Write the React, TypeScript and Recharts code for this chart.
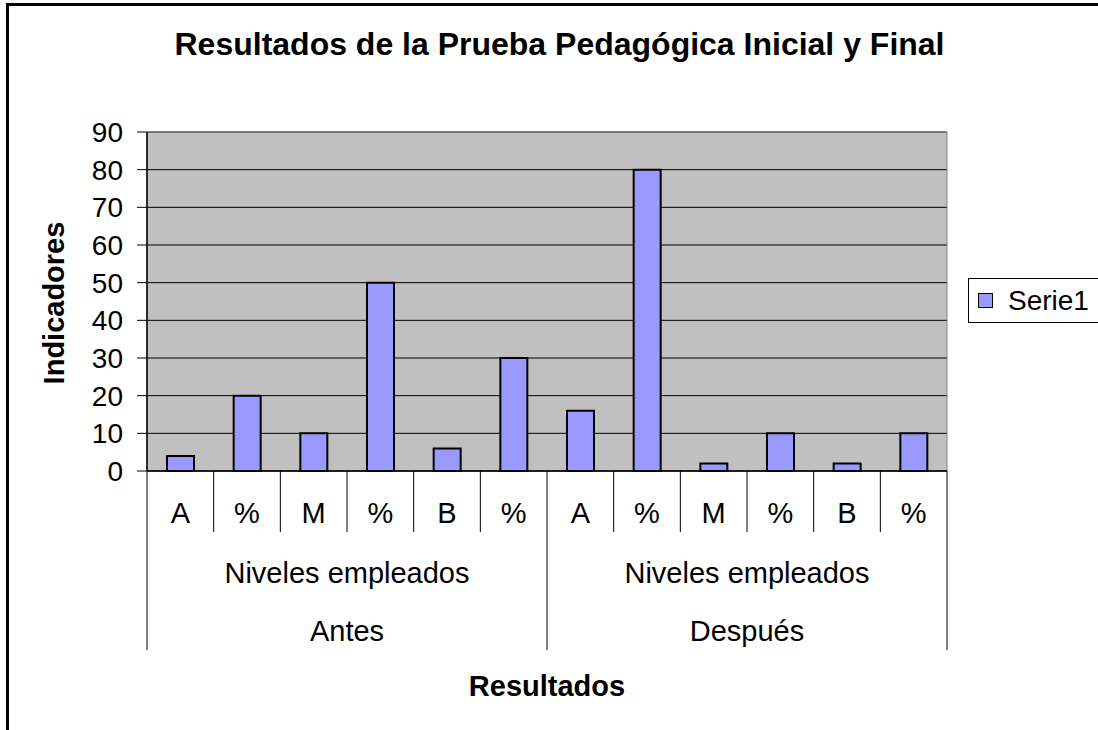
import React from 'react'
import {
  BarChart, Bar, XAxis, YAxis, CartesianGrid, Legend, ReferenceArea,
} from 'recharts'

const niveles = ['A', '%', 'M', '%', 'B', '%', 'A', '%', 'M', '%', 'B', '%']
const valores = [4, 20, 10, 50, 6, 30, 16, 80, 2, 10, 2, 10]
const grupos = ['Niveles empleados', 'Niveles empleados']
const momentos = ['Antes', 'Después']
const yTicks = [0, 10, 20, 30, 40, 50, 60, 70, 80, 90]

const FONT = '"Liberation Sans", Arial, sans-serif'
const W = 1098
const H = 730
const PLOT_LEFT = 147
const PLOT_W = 800
const Y_AXIS_W = 60
const X_AXIS_H = 180
const LEGEND_W = 140
const GROUP = niveles.length / momentos.length

const data = niveles.map((n, i) => ({ nivel: n, Serie1: valores[i] }))

function NivelTick(props: any) {
  const { x, y, payload, index } = props
  const bw = PLOT_W / niveles.length
  const left = x - bw / 2
  const right = x + bw / 2
  const startsGroup = index % GROUP === 0
  const last = index === niveles.length - 1
  const g = Math.floor(index / GROUP)
  const groupCenter = left + (bw * GROUP) / 2
  const txt = { fontFamily: FONT, fontSize: 29, fill: '#000', textAnchor: 'middle' as const }
  return (
    <g>
      <line x1={left} x2={left} y1={y} y2={y + (startsGroup ? 179 : 61)} stroke="#000" />
      {last && <line x1={right} x2={right} y1={y} y2={y + 179} stroke="#000" />}
      <text x={x} y={y + 52} {...txt}>{payload.value}</text>
      {startsGroup && (
        <>
          <text x={groupCenter} y={y + 112} {...txt}>{grupos[g]}</text>
          <text x={groupCenter} y={y + 170} {...txt}>{momentos[g]}</text>
        </>
      )}
    </g>
  )
}

function LegendBox() {
  return (
    <div style={{
      width: LEGEND_W, height: 45, boxSizing: 'border-box', border: '1px solid #000',
      background: '#fff', display: 'flex', alignItems: 'center', fontFamily: FONT, fontSize: 28,
    }}>
      <span style={{
        width: 13, height: 13, border: '1px solid #000', background: '#9999FF',
        marginLeft: 9, marginRight: 15, display: 'inline-block',
      }} />
      <span>Serie1</span>
    </div>
  )
}

export default function App() {
  return (
    <div style={{ position: 'absolute', left: 0, top: 0, width: W, height: H, overflow: 'hidden', background: '#fff' }}>
      <div style={{
        position: 'absolute', left: 6, top: 3, width: W + 50, height: H + 50,
        borderLeft: '3px solid #000', borderTop: '3px solid #000', boxSizing: 'border-box',
      }} />
      <svg width={W} height={80} style={{ position: 'absolute', left: 0, top: 0 }}>
        <text x={559.5} y={55} textAnchor="middle" fontFamily={FONT} fontSize={32} fontWeight="bold" fill="#000">
          Resultados de la Prueba Pedagógica Inicial y Final
        </text>
      </svg>
      <div style={{ position: 'absolute', left: 0, top: 0 }}>
        <BarChart
          width={W} height={H} data={data}
          margin={{ top: 132, right: W - PLOT_LEFT - PLOT_W - LEGEND_W, left: PLOT_LEFT - Y_AXIS_W, bottom: H - 471 - X_AXIS_H }}
        >
          <CartesianGrid vertical={false} stroke="#000" fill="#C0C0C0" />
          <ReferenceArea y1={0} y2={90} fill="none" stroke="#808080" strokeWidth={1} />
          <XAxis
            dataKey="nivel" height={X_AXIS_H} interval={0} tickLine={false} tickSize={0} tickMargin={0}
            axisLine={{ stroke: '#000', strokeWidth: 1.5 }}
            tick={<NivelTick />}
            label={{
              content: (p: any) => (
                <text x={p.viewBox.x + p.viewBox.width / 2} y={696} textAnchor="middle"
                  fontFamily={FONT} fontSize={29} fontWeight="bold" fill="#000">Resultados</text>
              ),
            }}
          />
          <YAxis
            width={Y_AXIS_W} domain={[0, 90]} ticks={yTicks} interval={0}
            tickSize={10} tickMargin={14}
            axisLine={{ stroke: '#000', strokeWidth: 1.5 }} tickLine={{ stroke: '#000' }}
            tick={{ fontFamily: FONT, fontSize: 28, fill: '#000' }}
            label={{
              content: () => (
                <text x={64} y={303} transform="rotate(-90, 64, 303)" textAnchor="middle"
                  fontFamily={FONT} fontSize={29} fontWeight="bold" fill="#000">Indicadores</text>
              ),
            }}
          />
          <Legend
            layout="vertical" align="right" verticalAlign="middle" width={LEGEND_W}
            wrapperStyle={{ left: 968, top: 278, right: 'auto' }}
            content={() => <LegendBox />}
          />
          <Bar dataKey="Serie1" fill="#9999FF" stroke="#000" strokeWidth={2} barSize={27} isAnimationActive={false} />
        </BarChart>
      </div>
    </div>
  )
}
